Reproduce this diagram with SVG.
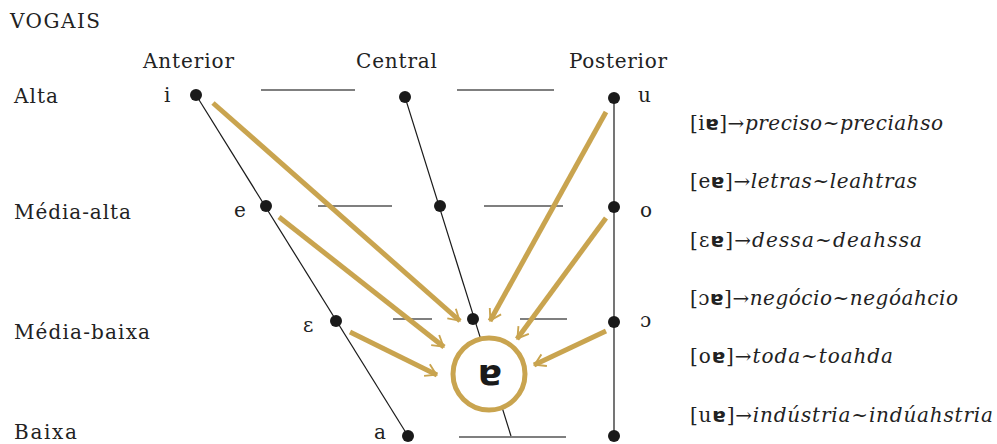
<svg xmlns="http://www.w3.org/2000/svg" width="997" height="444" viewBox="0 0 997 444">
<style>
.t{font-family:"DejaVu Serif","Liberation Serif",serif;font-size:20px;fill:#222}
.ex{font-family:"DejaVu Serif","Liberation Serif",serif;font-size:20px;fill:#222}
.it{font-style:italic}
.sc{font-family:"DejaVu Sans","Liberation Sans",sans-serif;font-weight:bold}
.gr{stroke:#555;stroke-width:1.5;fill:none}
.ln{stroke:#1a1a1a;stroke-width:1.2;fill:none}
.dot{fill:#1a1a1a}
.ar{stroke:#C9A44F;stroke-width:5;fill:none;marker-end:url(#ah)}
</style>
<defs>
<marker id="ah" viewBox="0 0 10 10" refX="8.6" refY="5" markerWidth="3.4" markerHeight="3.4" orient="auto" markerUnits="strokeWidth">
<path d="M2,1.2 L8.2,5 L2,8.8" fill="none" stroke="#C9A44F" stroke-width="1.1"/>
</marker>
</defs>
<rect width="997" height="444" fill="#fff"/>
<g id="headers">
<text class="t" x="10" y="28" textLength="90">VOGAIS</text>
<text class="t" x="143" y="68" textLength="91">Anterior</text>
<text class="t" x="356" y="68" textLength="81">Central</text>
<text class="t" x="569" y="68" textLength="98">Posterior</text>
<text class="t" x="14" y="103" textLength="44">Alta</text>
<text class="t" x="14" y="219" textLength="117">Média-alta</text>
<text class="t" x="14" y="339" textLength="136">Média-baixa</text>
<text class="t" x="14" y="439" textLength="63">Baixa</text>
</g>
<g id="gridlines">
<line class="gr" x1="261" y1="90" x2="355" y2="90"/>
<line class="gr" x1="457" y1="90" x2="554" y2="90"/>
<line class="gr" x1="318" y1="206" x2="392" y2="206"/>
<line class="gr" x1="484" y1="206" x2="563" y2="206"/>
<line class="gr" x1="393" y1="319" x2="432" y2="319"/>
<line class="gr" x1="520" y1="319" x2="567" y2="319"/>
<line class="gr" x1="459" y1="437" x2="566" y2="437"/>
</g>
<g id="connectors">
<line class="ln" x1="196" y1="95" x2="408" y2="436"/>
<line class="ln" x1="405" y1="97" x2="511" y2="436"/>
<line class="ln" x1="614" y1="98" x2="614" y2="436"/>
<path class="ar" d="M213,103 L460,321"/>
<path class="ar" d="M279,217 L444,347"/>
<path class="ar" d="M350,332 L437,375"/>
<path class="ar" d="M606,112 L490,321"/>
<path class="ar" d="M606,218 L517,339"/>
<path class="ar" d="M606,331 L534,365"/>
</g>
<g id="node-i"><circle class="dot" cx="196" cy="95" r="6"/><text class="t" x="164" y="102">i</text></g>
<g id="node-central-high"><circle class="dot" cx="405" cy="97" r="6"/></g>
<g id="node-u"><circle class="dot" cx="614" cy="98" r="6"/><text class="t" x="638" y="102">u</text></g>
<g id="node-e"><circle class="dot" cx="266" cy="206" r="6"/><text class="t" x="234" y="217">e</text></g>
<g id="node-central-midhigh"><circle class="dot" cx="440" cy="206" r="6"/></g>
<g id="node-o"><circle class="dot" cx="614" cy="207" r="6"/><text class="t" x="640" y="217">o</text></g>
<g id="node-epsilon"><circle class="dot" cx="336" cy="321" r="6"/><text class="t" x="303" y="332">ɛ</text></g>
<g id="node-central-midlow"><circle class="dot" cx="473" cy="319" r="6"/></g>
<g id="node-open-o"><circle class="dot" cx="614" cy="322" r="6"/><text class="t" x="640" y="327">ɔ</text></g>
<g id="node-a"><circle class="dot" cx="408" cy="436" r="6"/><text class="t" x="374" y="439">a</text></g>
<g id="node-u-low"><circle class="dot" cx="614" cy="436" r="6"/></g>
<g id="node-schwa">
<circle cx="489" cy="374" r="36" fill="#fff" stroke="#C9A44F" stroke-width="5"/>
<text x="490" y="385" font-family="DejaVu Sans, sans-serif" font-weight="600" font-size="36" text-anchor="middle" fill="#1a1a1a">ɐ</text>
</g>
<g id="examples">
<text class="ex" x="690" y="130" textLength="253">[i<tspan class="sc">ɐ</tspan>]→<tspan class="it">preciso~preciahso</tspan></text>
<text class="ex" x="690" y="188" textLength="227">[e<tspan class="sc">ɐ</tspan>]→<tspan class="it">letras~leahtras</tspan></text>
<text class="ex" x="690" y="247" textLength="232">[ɛ<tspan class="sc">ɐ</tspan>]→<tspan class="it">dessa~deahssa</tspan></text>
<text class="ex" x="690" y="305" textLength="268">[ɔ<tspan class="sc">ɐ</tspan>]→<tspan class="it">negócio~negóahcio</tspan></text>
<text class="ex" x="690" y="363" textLength="203">[o<tspan class="sc">ɐ</tspan>]→<tspan class="it">toda~toahda</tspan></text>
<text class="ex" x="690" y="422" textLength="303">[u<tspan class="sc">ɐ</tspan>]→<tspan class="it">indústria~indúahstria</tspan></text>
</g>
</svg>
